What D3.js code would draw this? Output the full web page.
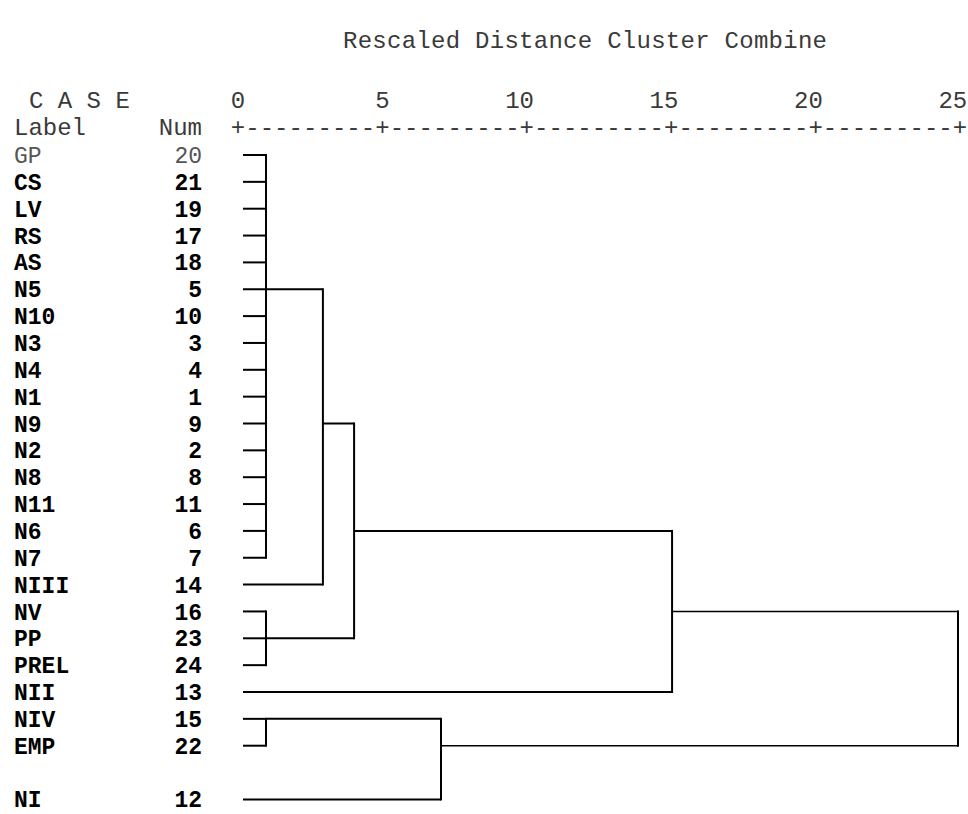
<!DOCTYPE html>
<html>
<head>
<meta charset="utf-8">
<script src="https://cdn.jsdelivr.net/npm/d3@7"></script>
<style>
  body { margin: 0; background: #fff; }
  text { font-family: "Liberation Mono", "Courier New", monospace; font-size: 24px; }
  .rows text { font-size: 23px; }
</style>
</head>
<body>
<div id="chart"></div>
<script>

// Cases, top to bottom
const labels = ['GP', 'CS', 'LV', 'RS', 'AS', 'N5', 'N10', 'N3', 'N4', 'N1', 'N9', 'N2', 'N8', 'N11', 'N6', 'N7', 'NIII', 'NV', 'PP', 'PREL', 'NII', 'NIV', 'EMP', 'NI'];
const nums = [20, 21, 19, 17, 18, 5, 10, 3, 4, 1, 9, 2, 8, 11, 6, 7, 14, 16, 23, 24, 13, 15, 22, 12];
const ticks = [0, 5, 10, 15, 20, 25];

// Cluster joins: children, rescaled distance, case row the joined line leaves from
const mergeIds = ['c1', 'c2', 'c3', 'c4', 'c5', 'c6', 'c7', 'c8'];
const mergeKids = [
  ['GP', 'CS', 'LV', 'RS', 'AS', 'N5', 'N10', 'N3', 'N4', 'N1', 'N9', 'N2', 'N8', 'N11', 'N6', 'N7'],
  ['c1', 'NIII'],
  ['NV', 'PP', 'PREL'],
  ['c2', 'c3'],
  ['c4', 'NII'],
  ['NIV', 'EMP'],
  ['c6', 'NI'],
  ['c5', 'c7']
];
const mergeDist = [0.97, 2.94, 0.97, 4.02, 15.03, 0.97, 7.03, 24.93];
const mergeOut = ['N5', 'N9', 'PP', 'N6', 'NV', 'NIV', 'EMP', null];

const W = 968, H = 814;
const rowTop = 155, rowStep = 26.85;
const charW = 14.44;
const grey = '#3a3a3a';

const svg = d3.select('#chart').append('svg')
  .attr('width', W)
  .attr('height', H)
  .attr('viewBox', `0 0 ${W} ${H}`);

const x = d3.scaleLinear().domain([0, 25]).range([238, 960]);

// one empty line before the last case
const slot = (i) => i + (labels[i] === 'NI' ? 1 : 0);
const rowY = (name) => rowTop + slot(labels.indexOf(name)) * rowStep;

// Headers
svg.append('text')
  .attr('x', 343)
  .attr('y', 40)
  .attr('dy', '0.35em')
  .attr('fill', grey)
  .attr('textLength', 484)
  .text('Rescaled Distance Cluster Combine');

svg.append('text')
  .attr('x', 29)
  .attr('y', 100)
  .attr('dy', '0.35em')
  .attr('fill', grey)
  .style('white-space', 'pre')
  .text('C A S E');

svg.append('text')
  .attr('x', 14)
  .attr('y', 127)
  .attr('dy', '0.35em')
  .attr('fill', grey)
  .text('Label');

svg.append('text')
  .attr('x', 202)
  .attr('y', 127)
  .attr('dy', '0.35em')
  .attr('text-anchor', 'end')
  .attr('fill', grey)
  .text('Num');

// Axis: tick numbers and the +----+ ruler
const gAx = svg.append('g').attr('class', 'axis');
ticks.forEach((t) => {
  gAx.append('text')
    .attr('x', x(t) + charW / 2)
    .attr('y', 100)
    .attr('dy', '0.35em')
    .attr('text-anchor', 'end')
    .attr('fill', grey)
    .text(t);
  gAx.append('text')
    .attr('x', x(t))
    .attr('y', 127)
    .attr('dy', '0.35em')
    .attr('text-anchor', 'middle')
    .attr('fill', grey)
    .text('+');
});
d3.range(0, 25, 0.5).filter((v) => v % 5 !== 0).forEach((v) => {
  gAx.append('text')
    .attr('x', x(v))
    .attr('y', 127)
    .attr('dy', '0.35em')
    .attr('text-anchor', 'middle')
    .attr('fill', grey)
    .text('-');
});

// Case rows
const gR = svg.append('g').attr('class', 'rows');
labels.forEach((l, i) => {
  const y = rowY(l);
  const first = i === 0;
  gR.append('text')
    .attr('x', 14)
    .attr('y', y)
    .attr('dy', '0.35em')
    .attr('font-weight', first ? 'normal' : 'bold')
    .attr('fill', first ? '#555' : '#000')
    .text(l);
  gR.append('text')
    .attr('x', 202)
    .attr('y', y)
    .attr('dy', '0.35em')
    .attr('text-anchor', 'end')
    .attr('font-weight', first ? 'normal' : 'bold')
    .attr('fill', first ? '#555' : '#000')
    .text(nums[i]);
});

// Dendrogram
const nodeY = {};
const nodeX = {};
labels.forEach((l) => { nodeY[l] = rowY(l); nodeX[l] = x(0) + 5; });

const gD = svg.append('g').attr('class', 'tree');
mergeIds.forEach((id, m) => {
  const xm = x(mergeDist[m]);
  const kids = mergeKids[m];
  const isRoot = mergeOut[m] === null;
  const ys = kids.map((k) => nodeY[k]);
  kids.forEach((k) => {
    gD.append('line')
      .attr('x1', nodeX[k])
      .attr('x2', xm)
      .attr('y1', nodeY[k])
      .attr('y2', nodeY[k])
      .attr('stroke', '#000')
      .attr('stroke-width', isRoot ? 1.5 : 2);
  });
  gD.append('line')
    .attr('x1', xm)
    .attr('x2', xm)
    .attr('y1', d3.min(ys) - 1)
    .attr('y2', d3.max(ys) + 1)
    .attr('stroke', '#000')
    .attr('stroke-width', 2);
  if (!isRoot) {
    nodeY[id] = rowY(mergeOut[m]);
    nodeX[id] = xm;
  }
});
</script>
</body>
</html>
